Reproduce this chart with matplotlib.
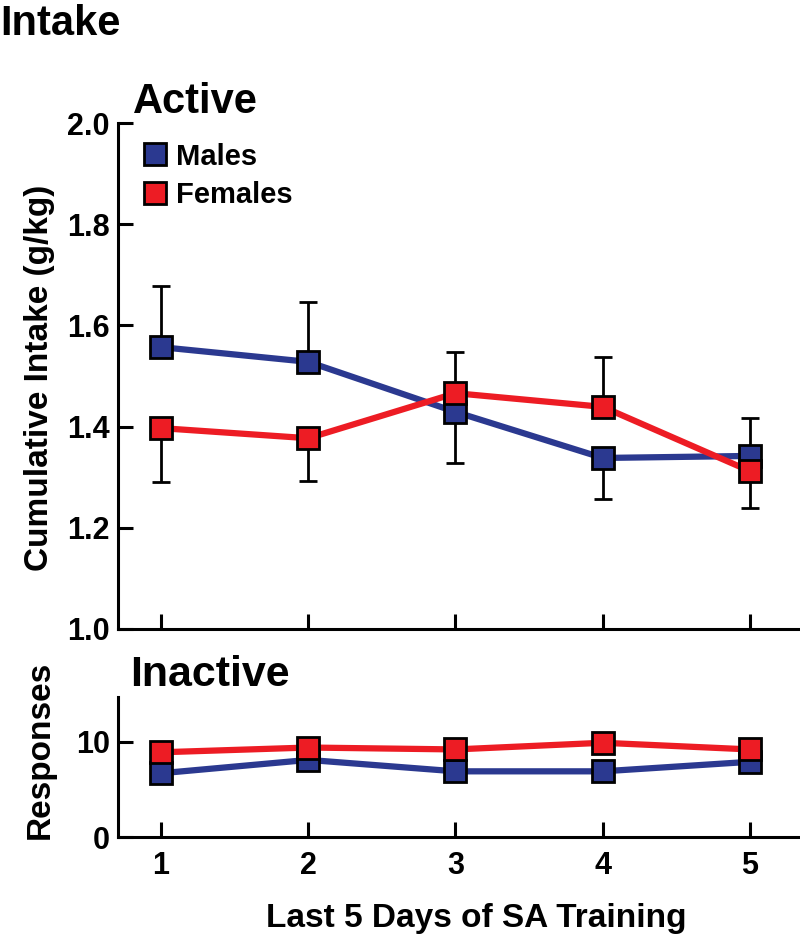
import numpy as np
import matplotlib
matplotlib.use("Agg")
import matplotlib.pyplot as plt
from matplotlib.lines import Line2D

plt.rcParams['font.family'] = ['Liberation Sans', 'DejaVu Sans']
plt.rcParams['font.weight'] = 'bold'

days = [1, 2, 3, 4, 5]

# active lever: cumulative intake (g/kg)
male_active = [1.557, 1.528, 1.429, 1.338, 1.342]
female_active = [1.397, 1.377, 1.466, 1.439, 1.312]
# one-sided SEM bars (lower, upper)
male_err_lo = [0, 0, 0.100, 0.081, 0]
male_err_hi = [0.120, 0.118, 0, 0, 0.075]
female_err_lo = [0.107, 0.085, 0, 0, 0.073]
female_err_hi = [0, 0, 0.082, 0.099, 0]

# inactive lever responses
male_inactive = [6.7, 8.1, 6.9, 6.9, 7.9]
female_inactive = [8.9, 9.4, 9.2, 9.9, 9.2]

blue = '#2b3990'
red = '#ed1c24'

fig = plt.figure(figsize=(8, 9.44), dpi=100)
ax1 = fig.add_axes([0.1475, 0.3337, 0.85, 0.536])
ax2 = fig.add_axes([0.1475, 0.1133, 0.85, 0.1483])

ms = 15.5
lw = 4.5
for ax in (ax1, ax2):
    for s in ('top', 'right'):
        ax.spines[s].set_visible(False)
    for s in ('left', 'bottom'):
        ax.spines[s].set_linewidth(2.2)
    ax.tick_params(direction='in', length=11, width=2.2, labelsize=22, pad=6)
    ax.tick_params(axis='x', pad=10)
    ax.set_xlim(0.708, 5.326)
    ax.set_xticks(days)

# top panel
ax1.errorbar(days, male_active, yerr=[male_err_lo, male_err_hi], fmt='none',
             ecolor='black', elinewidth=2, capsize=6.5, capthick=2, zorder=1)
ax1.errorbar(days, female_active, yerr=[female_err_lo, female_err_hi], fmt='none',
             ecolor='black', elinewidth=2, capsize=6.5, capthick=2, zorder=1)
ax1.plot(days, male_active, '-s', color=blue, lw=lw, ms=ms, mfc=blue, mec='black', mew=2, zorder=3)
ax1.plot(days, female_active, '-s', color=red, lw=lw, ms=ms, mfc=red, mec='black', mew=2, zorder=3)
ax1.set_ylim(1.0, 2.0)
ax1.set_yticks([1.0, 1.2, 1.4, 1.6, 1.8, 2.0])
ax1.set_yticklabels(['1.0', '1.2', '1.4', '1.6', '1.8', '2.0'])
ax1.set_xticklabels([])

handles = [Line2D([], [], ls='none', marker='s', ms=16, mfc=blue, mec='black', mew=2),
           Line2D([], [], ls='none', marker='s', ms=16, mfc=red, mec='black', mew=2)]
ax1.legend(handles, ['Males', 'Females'], loc='upper left', bbox_to_anchor=(0.016, 0.99),
           frameon=False, fontsize=21, handlelength=0.8, handletextpad=0.3,
           labelspacing=0.35, borderpad=0)

# bottom panel
ax2.plot(days, male_inactive, '-s', color=blue, lw=lw, ms=ms, mfc=blue, mec='black', mew=2, zorder=3)
ax2.plot(days, female_inactive, '-s', color=red, lw=lw, ms=ms, mfc=red, mec='black', mew=2, zorder=3)
ax2.set_ylim(0, 14.7)
ax2.set_yticks([0, 10])
ax2.set_xticklabels([str(d) for d in days])

fig.text(0.0, 1 - 35 / 944, 'Intake', fontsize=30, fontweight='bold', va='baseline')
fig.text(133 / 800, 1 - 113 / 944, 'Active', fontsize=30, fontweight='bold', va='baseline')
fig.text(130 / 800, 1 - 686 / 944, 'Inactive', fontsize=31, fontweight='bold', va='baseline')
fig.text(40 / 800, 1 - 378 / 944, 'Cumulative Intake (g/kg)', fontsize=24, fontweight='bold',
         rotation=90, ha='center', va='center')
fig.text(40 / 800, 1 - 750 / 944, 'Responses', fontsize=24, fontweight='bold',
         rotation=90, ha='center', va='center')
fig.text(476 / 800, 1 - 927 / 944, 'Last 5 Days of SA Training', fontsize=24, fontweight='bold',
         ha='center', va='baseline')

fig.savefig('out.png', dpi=100)
